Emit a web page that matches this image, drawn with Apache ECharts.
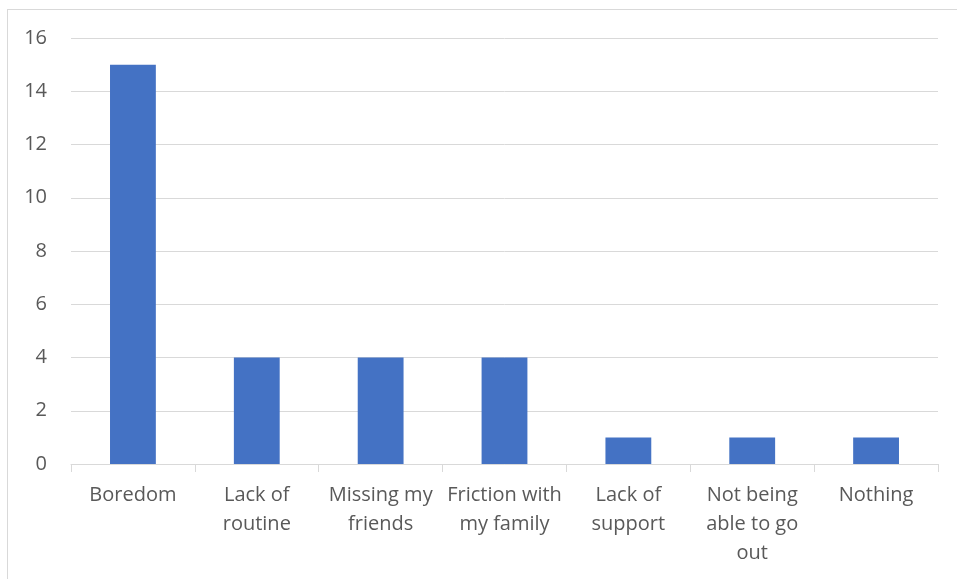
<!DOCTYPE html>
<html>
<head>
<meta charset="utf-8">
<script src="https://cdn.jsdelivr.net/npm/echarts@6/dist/echarts.min.js"></script>
<style>
    html, body { margin: 0; padding: 0; background: #fff; }
    #frame { position: absolute; left: 7px; top: 9px; width: 960px; height: 580px; border: 1px solid #d9d9d9; box-sizing: border-box; }
    #chart { position: absolute; left: 0; top: 0; width: 957px; height: 579px; }
</style>
</head>
<body>
<div id="frame"></div>
<div id="chart"></div>
<script>
// 数据
const categories = ['Boredom', 'Lack of\nroutine', 'Missing my\nfriends', 'Friction with\nmy family', 'Lack of\nsupport', 'Not being\nable to go\nout', 'Nothing'];
const values = [15, 4, 4, 4, 1, 1, 1];
const yTicks = { min: 0, max: 16, interval: 2 };

const chart = echarts.init(document.getElementById('chart'));

chart.setOption({
    animation: false,
    textStyle: { fontFamily: '"Open Sans", Lato, sans-serif' },
    grid: { left: 71, right: 19, top: 38, bottom: 115, containLabel: false },
    xAxis: {
        type: 'category',
        data: categories,
        axisLine: { lineStyle: { color: '#d9d9d9', width: 1 } },
        axisTick: { show: true, alignWithLabel: false, length: 8, lineStyle: { color: '#d9d9d9' } },
        axisLabel: { color: '#595959', fontSize: 20, lineHeight: 29, margin: 17, interval: 0 }
    },
    yAxis: {
        type: 'value',
        min: yTicks.min,
        max: yTicks.max,
        interval: yTicks.interval,
        axisLine: { show: false },
        axisTick: { show: false },
        axisLabel: { color: '#595959', fontSize: 20, margin: 24 },
        splitLine: { lineStyle: { color: '#d9d9d9', width: 1 } }
    },
    series: [{
        type: 'bar',
        data: values,
        barWidth: '37%',
        itemStyle: { color: '#4472c4' }
    }]
});
</script>
</body>
</html>
